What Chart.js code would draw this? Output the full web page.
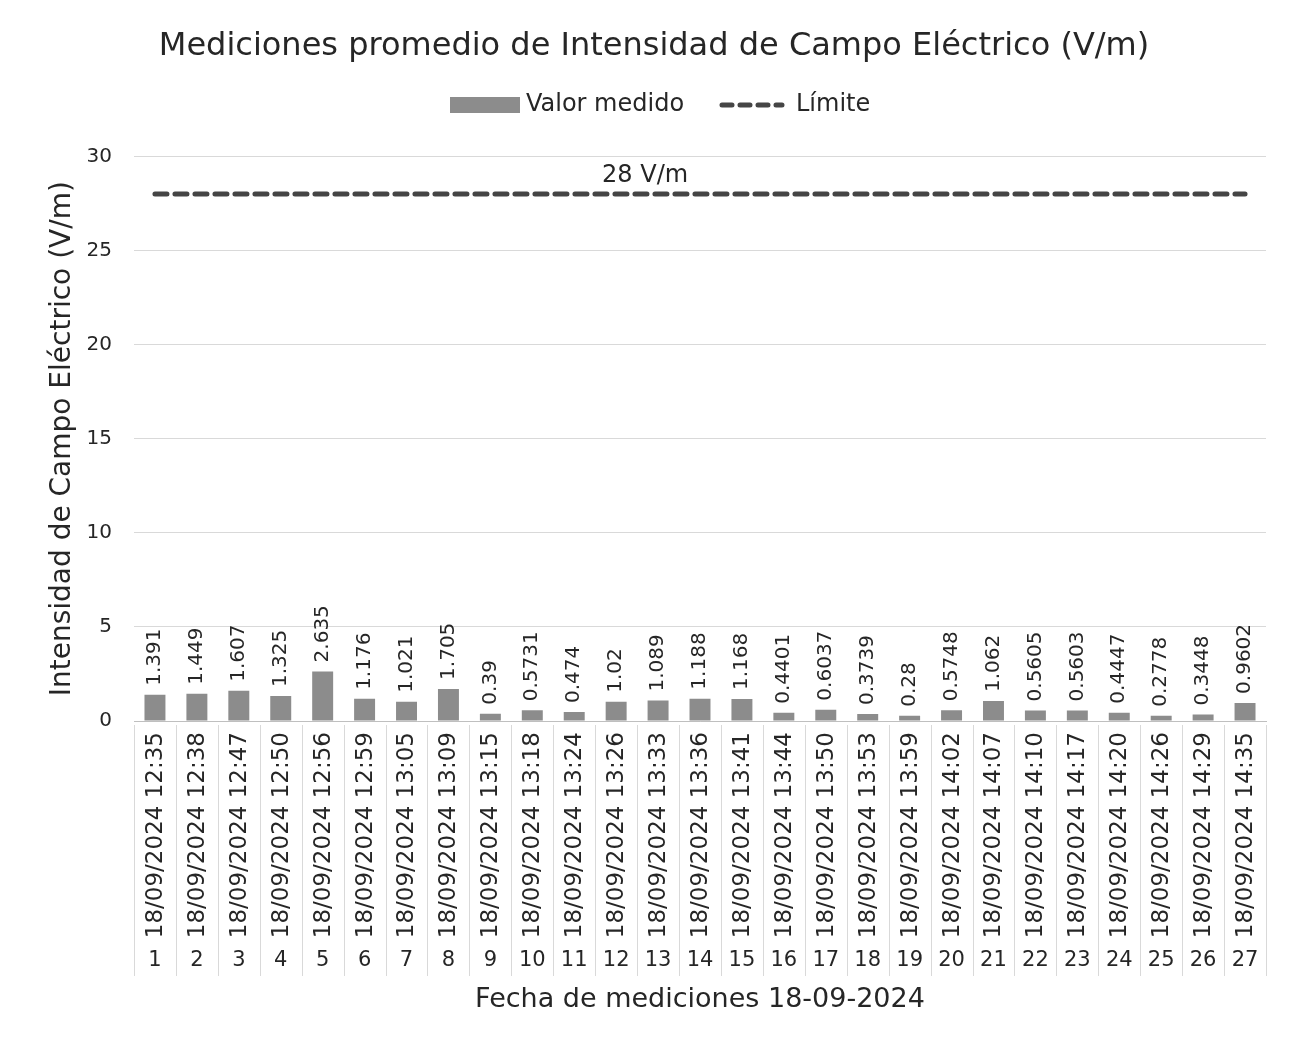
<!DOCTYPE html>
<html>
<head>
<meta charset="utf-8">
<script src="https://cdn.jsdelivr.net/npm/chart.js@4"></script>
<style>
  html, body { margin: 0; padding: 0; background: #fff; }
  #wrap { width: 1294px; height: 1041px; }
</style>
</head>
<body>
<div id="wrap"><canvas id="chart" width="1294" height="1041"></canvas></div>
<script>
// Chart data
const indices = ['1','2','3','4','5','6','7','8','9','10','11','12','13','14','15','16','17','18','19','20','21','22','23','24','25','26','27'];
const dates = ['18/09/2024 12:35','18/09/2024 12:38','18/09/2024 12:47','18/09/2024 12:50','18/09/2024 12:56',
    '18/09/2024 12:59','18/09/2024 13:05','18/09/2024 13:09','18/09/2024 13:15','18/09/2024 13:18',
    '18/09/2024 13:24','18/09/2024 13:26','18/09/2024 13:33','18/09/2024 13:36','18/09/2024 13:41',
    '18/09/2024 13:44','18/09/2024 13:50','18/09/2024 13:53','18/09/2024 13:59','18/09/2024 14:02',
    '18/09/2024 14:07','18/09/2024 14:10','18/09/2024 14:17','18/09/2024 14:20','18/09/2024 14:26',
    '18/09/2024 14:29','18/09/2024 14:35'];
const measured = [1.391, 1.449, 1.607, 1.325, 2.635, 1.176, 1.021, 1.705, 0.39, 0.5731, 0.474, 1.02, 1.089,
    1.188, 1.168, 0.4401, 0.6037, 0.3739, 0.28, 0.5748, 1.062, 0.5605, 0.5603, 0.4447, 0.2778, 0.3448, 0.9602];
const limitValue = 28;
const limit = indices.map(() => limitValue);
const yTicks = [0, 5, 10, 15, 20, 25, 30];

const FONT = "'DejaVu Sans', sans-serif";
const TEXT = '#262626';

// draws value labels, x category labels with separators, limit label and legend
const extrasPlugin = {
    id: 'extras',
    afterDraw(chart) {
        const ctx = chart.ctx;
        const x = chart.scales.x;
        const area = chart.chartArea;
        ctx.save();

        // bar value labels
        const barMeta = chart.getDatasetMeta(0);
        ctx.font = '20px ' + FONT;
        ctx.fillStyle = TEXT;
        ctx.textAlign = 'left';
        ctx.textBaseline = 'middle';
        barMeta.data.forEach((bar, i) => {
            ctx.save();
            ctx.translate(bar.x, bar.y - 9);
            ctx.rotate(-Math.PI / 2);
            ctx.fillText(String(measured[i]), 0, 0);
            ctx.restore();
        });

        // category separators and labels
        const step = x.width / indices.length;
        ctx.strokeStyle = '#d9d9d9';
        ctx.lineWidth = 1;
        for (let i = 0; i <= indices.length; i++) {
            const px = Math.round(x.left + i * step) + 0.5;
            ctx.beginPath();
            ctx.moveTo(px, area.bottom + 4);
            ctx.lineTo(px, area.bottom + 255);
            ctx.stroke();
        }
        indices.forEach((lab, i) => {
            const px = x.getPixelForValue(i);
            ctx.save();
            ctx.translate(px, area.bottom + 11);
            ctx.rotate(-Math.PI / 2);
            ctx.font = '23px ' + FONT;
            ctx.textAlign = 'right';
            ctx.textBaseline = 'middle';
            ctx.fillText(dates[i], 0, 1);
            ctx.restore();
            ctx.font = '21px ' + FONT;
            ctx.textAlign = 'center';
            ctx.textBaseline = 'middle';
            ctx.fillText(lab, px, area.bottom + 240);
        });

        // limit label
        const lineMeta = chart.getDatasetMeta(1);
        const p = lineMeta.data[12];
        ctx.font = '24px ' + FONT;
        ctx.textAlign = 'center';
        ctx.textBaseline = 'bottom';
        ctx.fillText(limitValue + ' V/m', p.x - 13, p.y - 6);

        // legend
        const ly = 105;
        ctx.fillStyle = '#8c8c8c';
        ctx.fillRect(450, ly - 8, 70, 16);
        ctx.fillStyle = TEXT;
        ctx.font = '24px ' + FONT;
        ctx.textAlign = 'left';
        ctx.textBaseline = 'middle';
        ctx.fillText('Valor medido', 526, ly);
        ctx.strokeStyle = '#454545';
        ctx.lineWidth = 5;
        ctx.lineCap = 'round';
        ctx.setLineDash([10, 8]);
        ctx.beginPath();
        ctx.moveTo(722, ly);
        ctx.lineTo(782, ly);
        ctx.stroke();
        ctx.setLineDash([]);
        ctx.fillText('Límite', 796, ly);

        ctx.restore();
    }
};

const ctx = document.getElementById('chart').getContext('2d');
new Chart(ctx, {
    data: {
        labels: indices,
        datasets: [{
            type: 'bar',
            label: 'Valor medido',
            data: measured,
            backgroundColor: '#8c8c8c',
            barPercentage: 0.5,
            categoryPercentage: 1.0,
            order: 2
        }, {
            type: 'line',
            label: 'Límite',
            data: limit,
            borderColor: '#454545',
            borderWidth: 5,
            borderDash: [12, 8],
            borderCapStyle: 'round',
            pointRadius: 0,
            fill: false,
            order: 1
        }]
    },
    options: {
        responsive: false,
        animation: false,
        layout: { padding: { left: 42, right: 28, top: 0, bottom: 25 } },
        plugins: {
            legend: { display: false },
            tooltip: { enabled: false },
            title: {
                display: true,
                text: 'Mediciones promedio de Intensidad de Campo Eléctrico (V/m)',
                color: TEXT,
                font: { family: FONT, size: 32, weight: 'normal' },
                padding: { top: 27, bottom: 91 }
            }
        },
        scales: {
            x: {
                grid: { display: false, drawTicks: false },
                border: { display: true, color: '#bfbfbf' },
                ticks: { display: false },
                title: {
                    display: true,
                    text: 'Fecha de mediciones 18-09-2024',
                    color: TEXT,
                    font: { family: FONT, size: 27 },
                    padding: 0
                },
                afterFit: s => { s.height = 295; }
            },
            y: {
                min: 0,
                max: 30,
                afterBuildTicks: s => { s.ticks = yTicks.map(v => ({ value: v })); },
                afterFit: s => { s.width = 92; },
                grid: { color: '#d9d9d9', drawTicks: false },
                border: { display: false },
                ticks: {
                    color: TEXT,
                    font: { family: FONT, size: 20 },
                    padding: 22
                },
                title: {
                    display: true,
                    text: 'Intensidad de Campo Eléctrico (V/m)',
                    color: TEXT,
                    font: { family: FONT, size: 28 },
                    padding: 4
                }
            }
        }
    },
    plugins: [extrasPlugin]
});
</script>
</body>
</html>
